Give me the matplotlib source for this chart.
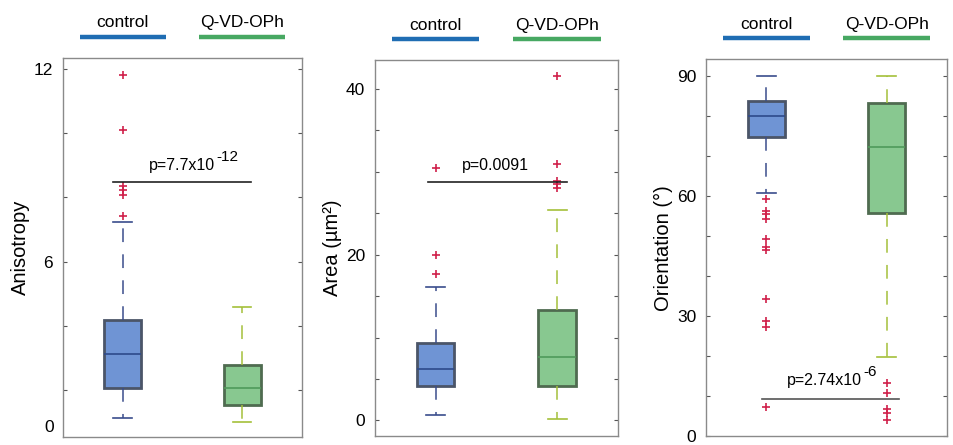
"""Box plots of anisotropy, area and orientation: control vs Q-VD-OPh."""

import matplotlib
matplotlib.use("Agg")
import matplotlib.pyplot as plt
import matplotlib.transforms as mtransforms

plt.rcParams["font.family"] = ["Liberation Sans", "DejaVu Sans"]

GROUPS = ["control", "Q-VD-OPh"]

# box stats: [whislo, q1, median, q3, whishi]
ANISO_CTRL = [1.14, 2.08, 3.14, 4.19, 7.22]
ANISO_CTRL_OUT = [11.81, 10.10, 8.34, 8.24, 8.08, 7.43]
ANISO_QVD = [1.02, 1.55, 2.08, 2.80, 4.60]
ANISO_QVD_OUT = []

AREA_CTRL = [0.6, 4.1, 6.2, 9.4, 16.1]
AREA_CTRL_OUT = [30.5, 20.0, 17.7]
AREA_QVD = [0.2, 4.1, 7.7, 13.3, 25.4]
AREA_QVD_OUT = [41.6, 30.9, 28.9, 28.5, 28.0]

ORIENT_CTRL = [60.9, 74.7, 80.0, 83.8, 90.0]
ORIENT_CTRL_OUT = [59.2, 56.3, 55.5, 54.4, 49.2, 47.2, 46.5, 34.2, 28.8, 27.2, 7.2]
ORIENT_QVD = [19.7, 55.7, 72.2, 83.3, 90.0]
ORIENT_QVD_OUT = [13.2, 10.7, 6.9, 5.7, 4.0]

# p values: base text and exponent (None = no exponent)
P_BASE = ["p=7.7x10", "p=0.0091", "p=2.74x10"]
P_EXP = ["-12", None, "-6"]
P_LINE_Y = [8.48, 28.8, 9.2]

BOX_FACE = ["#6f94d4", "#88c890"]
BOX_EDGE = ["#4b5568", "#4f6b50"]
MEDIAN_COL = ["#2e4a8a", "#4f9a5a"]
WHISK_COL = ["#3a4d8c", "#a4c03a"]
HEADER_COL = ["#1f6db3", "#47a862"]
FLIER_COL = "#d0204a"


def make_stats(box, fliers):
    lo, q1, med, q3, hi = box
    return dict(whislo=lo, q1=q1, med=med, q3=q3, whishi=hi, fliers=fliers)


def draw_panel(ax, stats, ylabel, ylim, ticks, labels, p_base, p_exp, p_y,
               p_line_x, p_text_xy, p_line_col="#222222"):
    arts = ax.bxp(stats, positions=[1, 2], widths=0.31, patch_artist=True,
                  showfliers=True, manage_ticks=False)
    for i in range(2):
        box = arts["boxes"][i]
        box.set_facecolor(BOX_FACE[i])
        box.set_edgecolor(BOX_EDGE[i])
        box.set_linewidth(2.0)
        arts["medians"][i].set_color(MEDIAN_COL[i])
        arts["medians"][i].set_linewidth(1.2)
        for w in arts["whiskers"][2 * i:2 * i + 2]:
            w.set_color(WHISK_COL[i])
            w.set_linestyle((0, (9, 8)))
            w.set_linewidth(1.1)
        for c in arts["caps"][2 * i:2 * i + 2]:
            c.set_color(WHISK_COL[i])
            c.set_linewidth(1.2)
        fl = arts["fliers"][i]
        fl.set_marker("+")
        fl.set_markeredgecolor(FLIER_COL)
        fl.set_markersize(5.5)
        fl.set_markeredgewidth(1.2)

    ax.set_xlim(0.5, 2.5)
    ax.set_ylim(*ylim)
    ax.set_xticks([])
    ax.set_yticks(ticks, labels=labels)
    ax.tick_params(axis="y", direction="in", right=True, length=3, width=0.8,
                   labelsize=12.5, pad=7, color="#555555")
    for s in ax.spines.values():
        s.set_color("#8a8a8a")
        s.set_linewidth(1.0)
    ax.set_ylabel(ylabel, fontsize=14.5, labelpad=2.5)

    # significance line + p value
    ax.plot(p_line_x, [p_y, p_y], color=p_line_col, lw=1.2)
    if p_exp is None:
        ax.text(p_text_xy[0], p_text_xy[1], p_base, ha="center", va="bottom", fontsize=11.5)
    else:
        base = ax.text(p_text_xy[0], p_text_xy[1], p_base, ha="center", va="bottom",
                       fontsize=11.5)
        ax.annotate(p_exp, xy=(1.02, 0.62), xycoords=base, ha="left", va="bottom",
                    fontsize=11)

    # group header
    trans = mtransforms.blended_transform_factory(ax.transData, ax.transAxes)
    for i, name in enumerate(GROUPS):
        ax.plot([i + 1 - 0.36, i + 1 + 0.36], [1.055, 1.055], color=HEADER_COL[i],
                lw=3.2, transform=trans, clip_on=False, solid_capstyle="butt")
        ax.text(i + 1, 1.092, name, ha="center", va="center", fontsize=12.5,
                transform=trans)


fig = plt.figure(figsize=(9.54, 4.45), dpi=100)
ax1 = fig.add_axes([0.066, 0.018, 0.2505, 0.852])
ax2 = fig.add_axes([0.393, 0.020, 0.2547, 0.845])
ax3 = fig.add_axes([0.740, 0.020, 0.2526, 0.847])

draw_panel(ax1,
           [make_stats(ANISO_CTRL, ANISO_CTRL_OUT), make_stats(ANISO_QVD, ANISO_QVD_OUT)],
           "Anisotropy", (0.55, 12.34),
           [2, 4, 6, 8, 10, 12], ["", "", "6", "", "", "12"],
           P_BASE[0], P_EXP[0], P_LINE_Y[0], [0.92, 2.07], (1.50, 8.75))
# the "0" label of the first panel sits just above the lower axis edge
ax1.text(-0.038, 0.024, "0", transform=ax1.transAxes, ha="right", va="center",
         fontsize=12.5)

draw_panel(ax2,
           [make_stats(AREA_CTRL, AREA_CTRL_OUT), make_stats(AREA_QVD, AREA_QVD_OUT)],
           "Area (µm²)", (-1.9, 43.5),
           [0, 5, 10, 15, 20, 25, 30, 35, 40], ["0", "", "", "", "20", "", "", "", "40"],
           P_BASE[1], P_EXP[1], P_LINE_Y[1], [0.94, 2.08], (1.49, 29.9))

draw_panel(ax3,
           [make_stats(ORIENT_CTRL, ORIENT_CTRL_OUT), make_stats(ORIENT_QVD, ORIENT_QVD_OUT)],
           "Orientation (°)", (0, 94.25),
           [0, 10, 20, 30, 40, 50, 60, 70, 80, 90],
           ["0", "", "", "30", "", "", "60", "", "", "90"],
           P_BASE[2], P_EXP[2], P_LINE_Y[2], [0.965, 2.10], (1.48, 12.0),
           p_line_col="#555555")

fig.savefig("out.png", dpi=100)
